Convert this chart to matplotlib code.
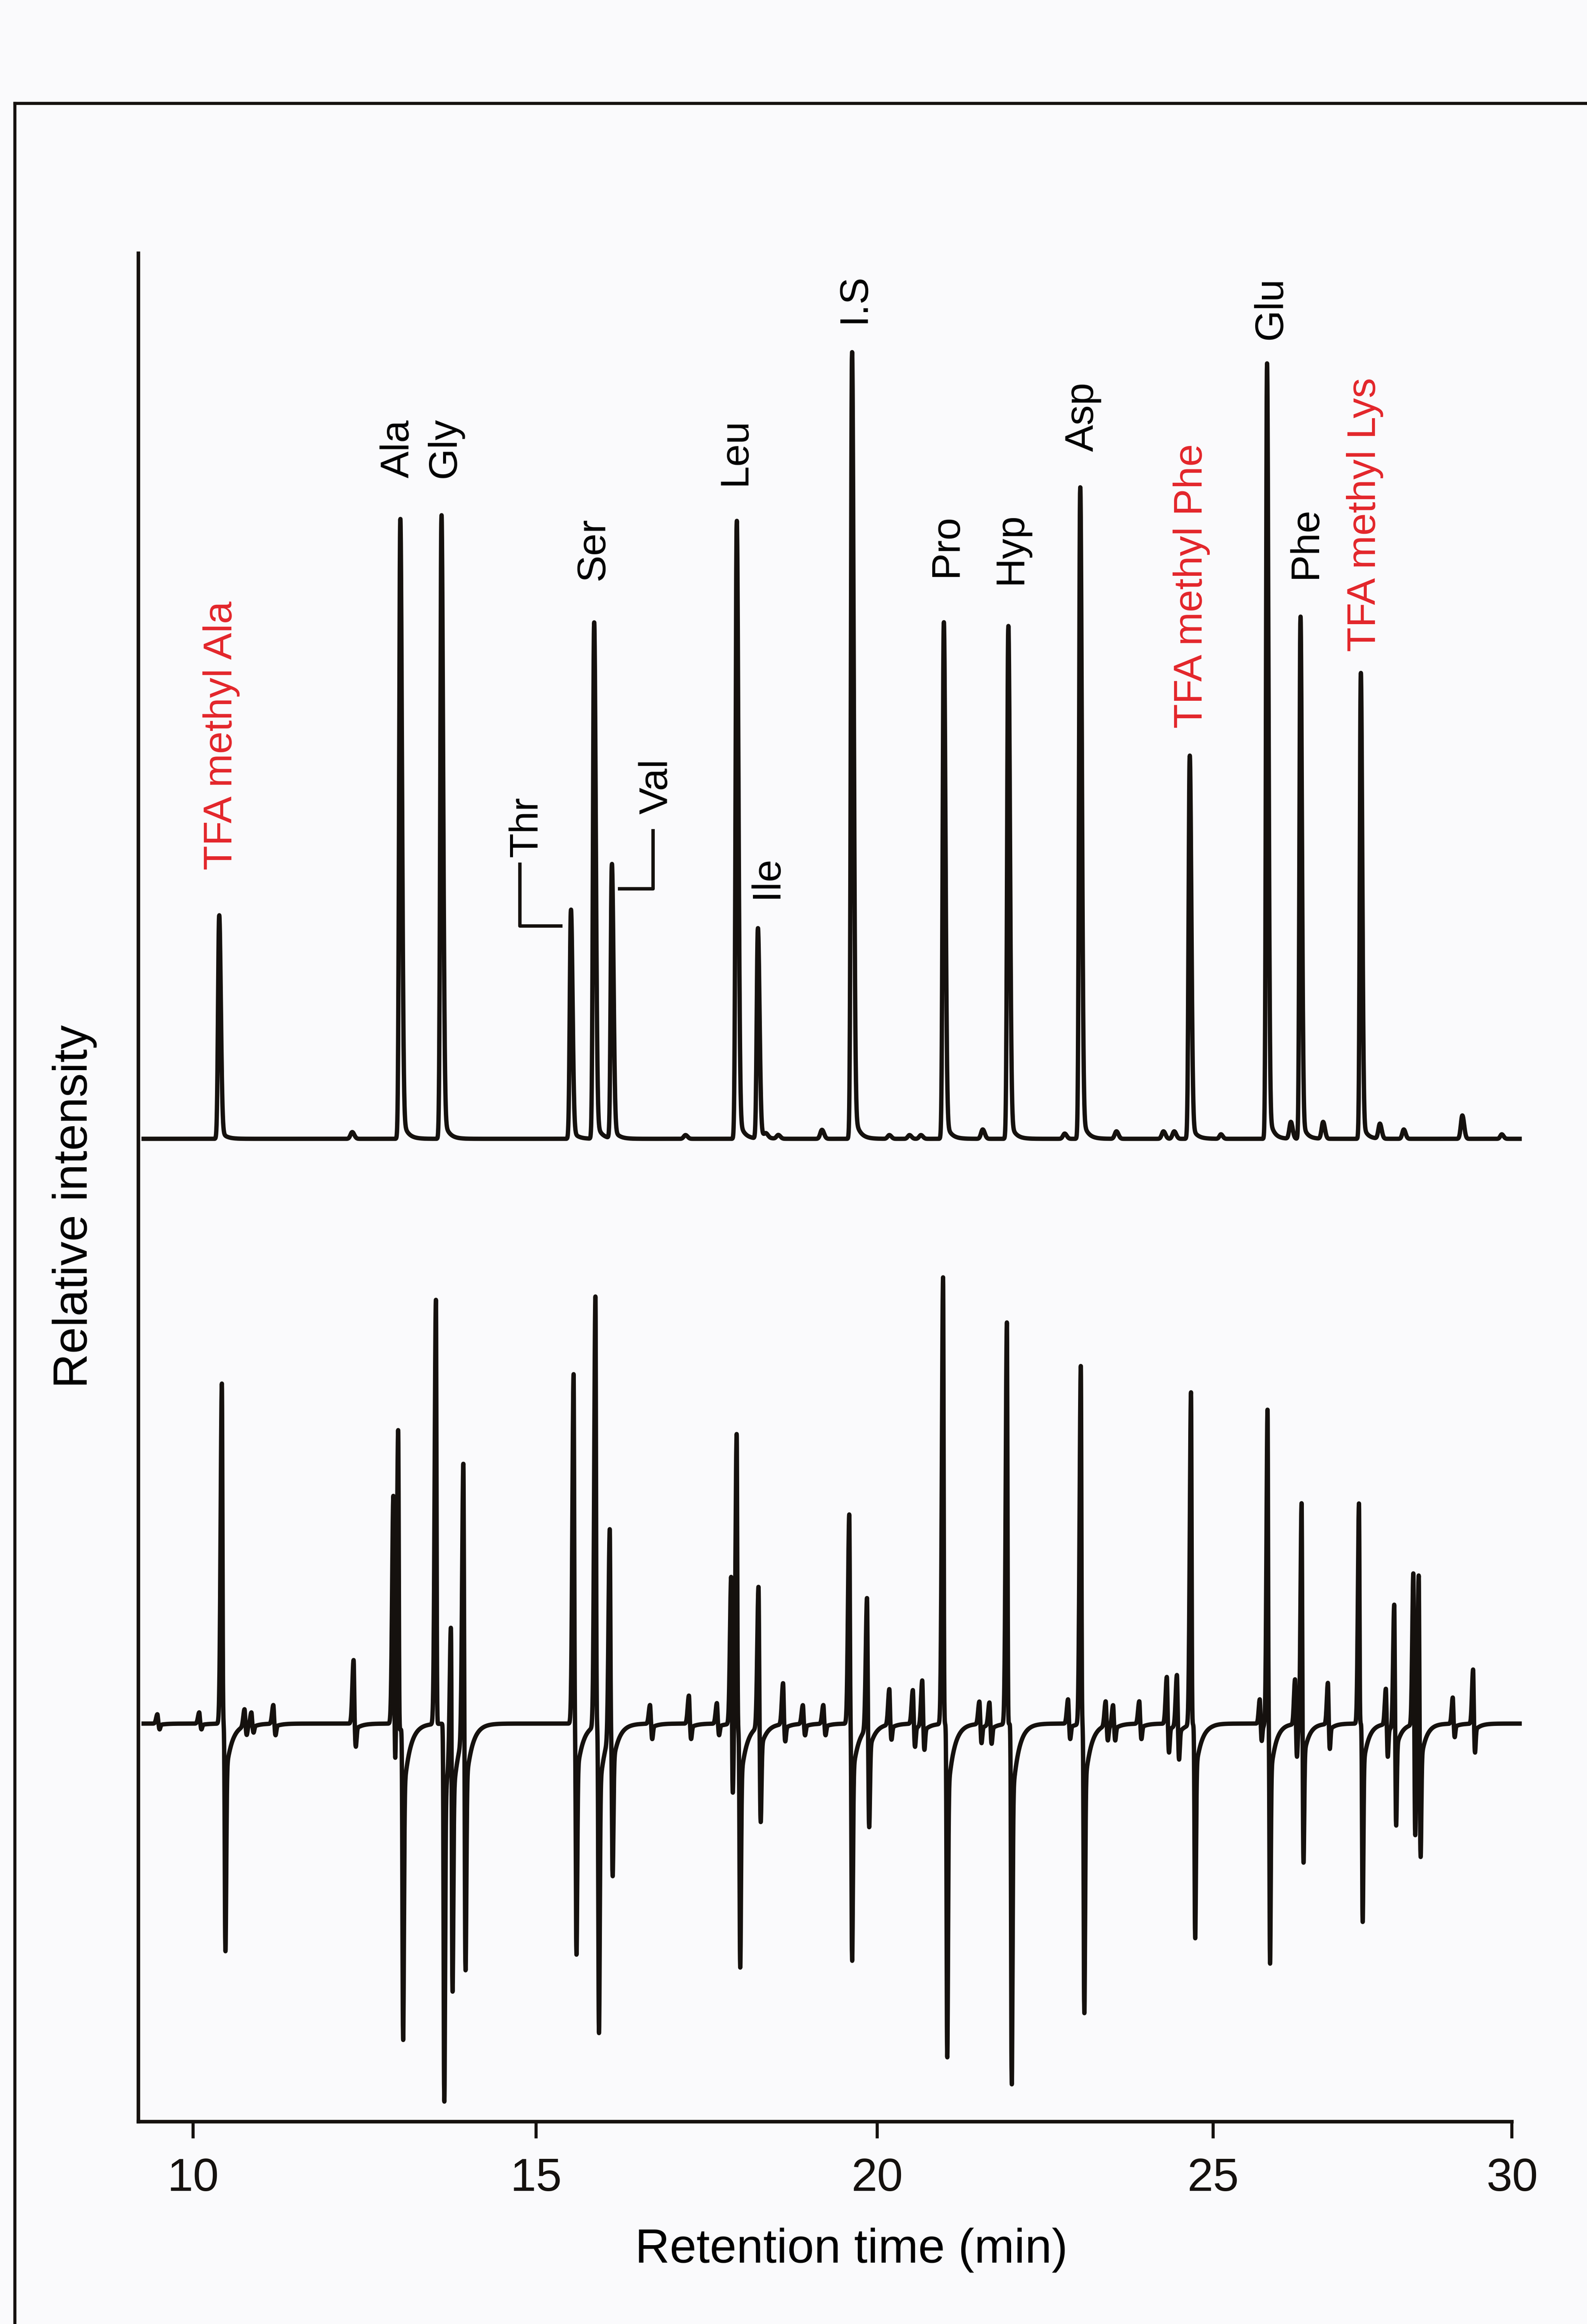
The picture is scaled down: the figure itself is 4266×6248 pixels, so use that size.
import numpy as np
import matplotlib
matplotlib.use("Agg")
import matplotlib.pyplot as plt
from matplotlib.lines import Line2D

plt.rcParams['font.family'] = ['Liberation Sans', 'DejaVu Sans']

# --- upper trace: labelled peaks (retention time in min, height above baseline) ---
peak_t = [10.38, 13.02, 13.62, 15.51, 15.85, 16.11, 17.94, 18.25, 19.63,
          20.99, 21.95, 23.02, 24.65, 25.90, 26.46, 27.47]
peak_h = [11.9, 33.0, 33.2, 12.2, 27.5, 14.6, 32.9, 11.2, 41.9,
          27.5, 27.3, 34.7, 20.4, 41.3, 27.8, 24.8]

# small unlabelled bumps on the upper trace
minor_t = [12.32, 17.19, 18.37, 18.55, 19.19, 20.18, 20.48, 20.65, 21.57, 22.79,
           23.56, 24.26, 24.42, 25.13, 26.30, 26.84, 27.79, 28.19, 29.17, 29.83]
minor_h = [0.36, 0.2, 0.2, 0.2, 0.48, 0.2, 0.2, 0.2, 0.5, 0.28,
           0.4, 0.4, 0.4, 0.24, 0.9, 0.9, 0.8, 0.5, 1.25, 0.24]

# peak labels
names = ['TFA methyl Ala', 'Ala', 'Gly', 'Thr', 'Ser', 'Val', 'Leu', 'Ile', 'I.S',
         'Pro', 'Hyp', 'Asp', 'TFA methyl Phe', 'Glu', 'Phe', 'TFA methyl Lys']
name_x = [10.41, 12.99, 13.67, 14.86, 15.84, 16.77, 17.92, 18.38, 19.66,
          21.03, 21.99, 23.06, 24.68, 25.97, 26.55, 27.54]
name_y = [67.0, 88.0, 88.0, 67.7, 82.5, 70.0, 87.6, 65.5, 96.3,
          82.7, 82.3, 89.4, 74.6, 95.4, 82.6, 78.7]

# --- lower trace: up swing / down swing of each feature ---
up_t = [9.48, 10.09, 10.42, 10.75, 10.85, 11.17, 12.34, 12.92, 12.99, 13.54, 13.76,
        13.94, 15.55, 15.87, 16.08, 16.67, 17.24, 17.65, 17.86, 17.94, 18.26, 18.62,
        18.91, 19.21, 19.59, 19.85, 20.18, 20.53, 20.67, 20.98, 21.52, 21.67, 21.93,
        22.84, 23.03, 23.40, 23.51, 23.90, 24.31, 24.46, 24.67, 25.78, 25.91, 26.37,
        26.48, 26.92, 27.44, 27.89, 28.03, 28.35, 28.44, 29.01, 29.35]
up_h = [0.5, 0.6, 18.2, 0.9, 0.7, 1.0, 3.4, 12.2, 16.2, 22.7, 7.1,
        14.7, 18.7, 23.0, 11.1, 1.0, 1.5, 1.1, 8.0, 16.0, 7.5, 2.2,
        1.0, 1.0, 11.2, 7.0, 1.9, 1.8, 2.4, 23.9, 1.2, 1.2, 21.5,
        1.3, 19.2, 1.3, 1.1, 1.2, 2.5, 2.7, 17.8, 1.3, 16.9, 2.4,
        12.0, 2.2, 11.8, 1.9, 6.5, 8.1, 8.7, 1.4, 2.9]
dn_t = [9.51, 10.12, 10.47, 10.78, 10.88, 11.20, 12.37, 12.95, 13.06, 13.66, 13.78,
        13.97, 15.59, 15.92, 16.12, 16.70, 17.27, 17.68, 17.88, 17.99, 18.29, 18.65,
        18.94, 19.24, 19.63, 19.88, 20.21, 20.56, 20.70, 21.04, 21.55, 21.70, 22.00,
        22.87, 23.08, 23.43, 23.54, 23.93, 24.34, 24.49, 24.73, 25.81, 25.95, 26.40,
        26.51, 26.95, 27.50, 27.92, 28.06, 28.38, 28.47, 29.04, 29.38]
dn_h = [0.3, 0.3, 11.8, 0.5, 0.4, 0.6, 1.2, 3.0, 16.2, 19.6, 12.8,
        12.3, 12.0, 16.0, 7.5, 0.8, 0.8, 0.6, 3.8, 12.4, 5.0, 0.9,
        0.6, 0.6, 12.3, 5.2, 0.8, 1.2, 1.3, 17.3, 1.0, 1.0, 18.7,
        0.8, 15.0, 0.8, 0.8, 0.8, 1.5, 1.8, 11.1, 0.9, 12.4, 1.7,
        7.1, 1.3, 10.3, 1.7, 5.2, 5.8, 6.4, 0.7, 1.5]

top_base = 52.6
low_base = 21.3

# the printed time axis is not evenly spaced (tick positions measured on the scan)
tick_t = np.array([10, 15, 20, 25, 30.])
tick_px = np.array([519, 1441, 2358, 3261, 4064.])


def _pw(v, a, b):
    v = np.asarray(v, float)
    lo = b[0] + (v - a[0]) * (b[1] - b[0]) / (a[1] - a[0])
    hi = b[-1] + (v - a[-1]) * (b[-1] - b[-2]) / (a[-1] - a[-2])
    return np.where(v < a[0], lo, np.where(v > a[-1], hi, np.interp(v, a, b)))


def fwd(v):
    return _pw(v, tick_t, tick_px)


def inv(v):
    return _pw(v, tick_px, tick_t)


def apeak(t, t0, h, sl, sr):
    s = np.where(t < t0, sl, sr)
    return h * np.exp(-0.5 * ((t - t0) / s) ** 2)


def tail(t, t0, h, tau):
    d = np.clip(t - t0, 0, None)
    return h * (1 - np.exp(-d / 0.01)) * np.exp(-d / tau)


t = np.arange(9.28, 30.13, 0.0015)

top = np.full_like(t, top_base)
for t0, h in zip(peak_t, peak_h):
    top += apeak(t, t0, h, 0.016, 0.024) + tail(t, t0, 0.05 * h, 0.07)
for t0, h in zip(minor_t, minor_h):
    top += apeak(t, t0, h, 0.025, 0.03)

low = np.full_like(t, low_base)
for a, ha, b, hb in zip(up_t, up_h, dn_t, dn_h):
    low += apeak(t, a, ha, 0.018, 0.008)
    low -= apeak(t, b, hb, 0.008, 0.012) + tail(t, b, 0.25 * hb, 0.09)

fig = plt.figure(figsize=(4266 / 300, 6249 / 300), dpi=300, facecolor='#fafafc')
ax = fig.add_axes([0.0872, 0.0871, 0.8655, 0.8038])
ax.set_facecolor('none')
ax.set_xscale('function', functions=(fwd, inv))

ink = '#15110e'
ax.plot(t, top, color=ink, lw=2.8, clip_on=False)
ax.plot(t, low, color=ink, lw=2.8, clip_on=False)

for n, x, y in zip(names, name_x, name_y):
    c = '#e3262b' if n.startswith('TFA') else 'black'
    ax.text(x, y, n, rotation=90, ha='center', va='bottom', fontsize=26, color=c)

# bracket leaders for Thr and Val
ax.plot([14.76, 14.76, 15.36], [67.3, 64.0, 64.0], color=ink, lw=2.2)
ax.plot([16.22, 16.71, 16.71], [66.0, 66.0, 69.1], color=ink, lw=2.2)

ax.set_xlim(9.203, 30)
ax.set_ylim(0, 100)
ax.set_xticks([10, 15, 20, 25, 30])
ax.set_xticklabels(['10', '15', '20', '25', '30'])
ax.minorticks_off()
ax.set_yticks([])
for s in ['top', 'right']:
    ax.spines[s].set_visible(False)
for s in ['left', 'bottom']:
    ax.spines[s].set_linewidth(2.3)
    ax.spines[s].set_color(ink)
ax.tick_params(axis='x', direction='out', length=10.8, width=2.0, pad=12,
               labelsize=30, colors=ink)

ax.set_xlabel('Retention time (min)', fontsize=31)
ax.xaxis.set_label_coords(0.519, -0.0565)
ax.set_ylabel('Relative intensity', fontsize=31)
ax.yaxis.set_label_coords(-0.030, 0.49)

# outer frame of the scanned page
fig.add_artist(Line2D([0.0094, 1.0], [0.9553, 0.9553], color=ink, lw=2.0))
fig.add_artist(Line2D([0.0094, 0.0094], [0.0, 0.9553], color=ink, lw=2.0))

fig.savefig('out.png', dpi=300, facecolor=fig.get_facecolor())
